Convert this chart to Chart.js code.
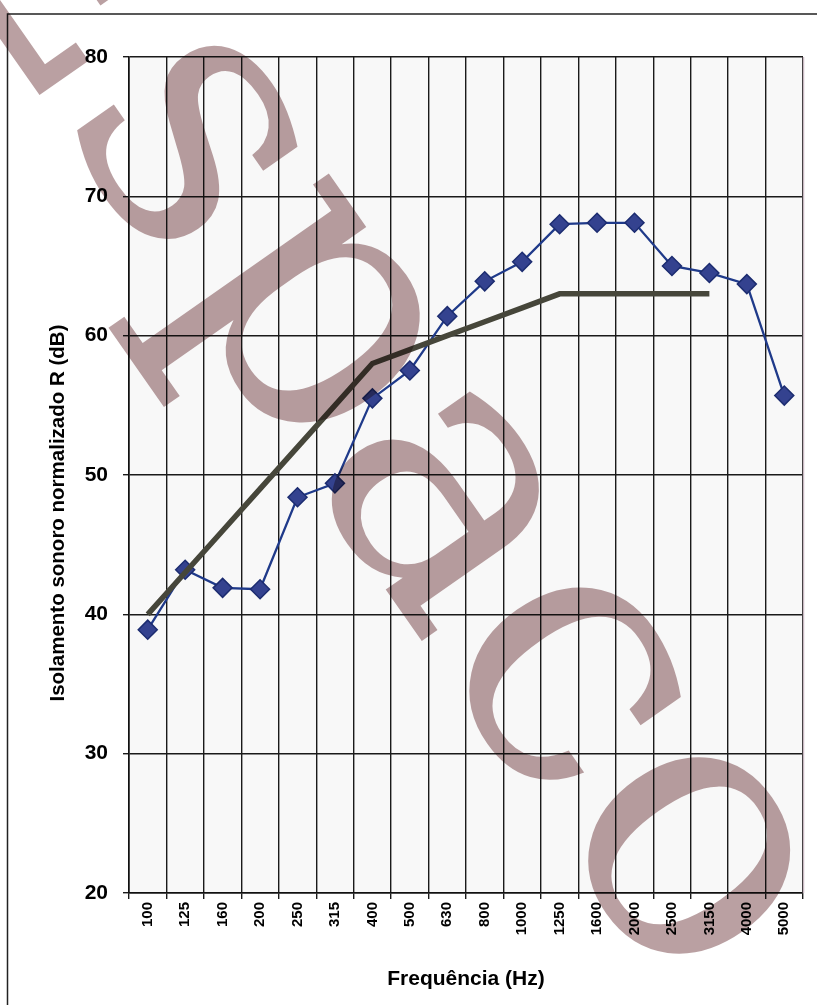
<!DOCTYPE html>
<html>
<head>
<meta charset="utf-8">
<script src="https://cdn.jsdelivr.net/npm/chart.js@4.4.1/dist/chart.umd.min.js"></script>
<style>
  html, body { margin: 0; padding: 0; background: #ffffff; }
  #wrap { width: 817px; height: 1005px; position: relative; }
  canvas { display: block; }
</style>
</head>
<body>
<div id="wrap"><canvas id="chart" width="817" height="1005"></canvas></div>
<script>
// Third-octave band centre frequencies (Hz)
const frequencies = ['100', '125', '160', '200', '250', '315', '400', '500', '630',
                     '800', '1000', '1250', '1600', '2000', '2500', '3150', '4000', '5000'];

// Measured normalised sound reduction index R (dB)
const measuredR = [38.9, 43.2, 41.9, 41.8, 48.4, 49.4, 55.5, 57.5, 61.4,
                   63.9, 65.3, 68.0, 68.1, 68.1, 65.0, 64.5, 63.7, 55.7];

// Shifted reference curve (100 Hz - 3150 Hz)
const referenceCurve = [40, 43, 46, 49, 52, 55, 58, 59, 60,
                        61, 62, 63, 63, 63, 63, 63, null, null];

// Value axis range and step
const yMin = 20;
const yMax = 80;
const yStep = 10;

const axisTitleY = 'Isolamento sonoro normalizado R (dB)';
const axisTitleX = 'Frequência (Hz)';
const watermarkText = 'Espaco';

const FONT = '"Liberation Sans", Arial, Helvetica, sans-serif';

// Plot background, outer frame, right edge of the plot and the value-axis title
const backdrop = {
  id: 'backdrop',
  beforeDraw(chart) {
    const { ctx, chartArea: a, width, height } = chart;
    ctx.save();
    ctx.fillStyle = '#ffffff';
    ctx.fillRect(0, 0, width, height);
    ctx.fillStyle = '#f8f8f8';
    ctx.fillRect(a.left, a.top, a.right - a.left, a.bottom - a.top);
    ctx.restore();
  },
  afterDraw(chart) {
    const { ctx, chartArea: a, width, height } = chart;
    ctx.save();
    ctx.strokeStyle = '#c9b9c2';
    ctx.lineWidth = 1.5;
    ctx.beginPath();
    ctx.moveTo(a.right + 0.5, a.top);
    ctx.lineTo(a.right + 0.5, a.bottom);
    ctx.stroke();
    ctx.strokeStyle = '#222222';
    ctx.lineWidth = 1.5;
    ctx.beginPath();
    ctx.moveTo(7.5, height);
    ctx.lineTo(7.5, 14);
    ctx.lineTo(width, 14);
    ctx.stroke();

    // value-axis title, set a little below the middle of the axis
    ctx.translate(58, 513);
    ctx.rotate(-Math.PI / 2);
    ctx.fillStyle = '#000000';
    ctx.font = 'bold 20.5px ' + FONT;
    ctx.textAlign = 'center';
    ctx.textBaseline = 'middle';
    ctx.fillText(axisTitleY, 0, 0);
    ctx.restore();
  }
};

// Diagonal watermark printed over the whole sheet
const watermark = {
  id: 'watermark',
  afterDraw(chart) {
    const { ctx } = chart;
    ctx.save();
    ctx.globalCompositeOperation = 'multiply';
    ctx.fillStyle = 'rgb(186,160,162)';
    ctx.font = '370px "DejaVu Serif", serif';
    ctx.textAlign = 'center';
    ctx.textBaseline = 'alphabetic';
    ctx.translate(288, 450);
    ctx.rotate(55 * Math.PI / 180);
    ctx.fillText(watermarkText, 0, 0);
    ctx.restore();
  }
};

new Chart(document.getElementById('chart'), {
  type: 'line',
  data: {
    labels: frequencies,
    datasets: [
      {
        label: 'R',
        data: measuredR,
        order: 1,
        borderColor: '#1f3a8a',
        borderWidth: 2.3,
        pointStyle: 'rectRot',
        pointRadius: 9.5,
        pointBackgroundColor: '#34428f',
        pointBorderColor: '#1c2c70',
        pointBorderWidth: 1.5,
        tension: 0
      },
      {
        label: 'Curva de referência',
        data: referenceCurve,
        order: 0,
        borderColor: '#46463a',
        borderWidth: 5.5,
        pointRadius: 0,
        spanGaps: false,
        tension: 0
      }
    ]
  },
  options: {
    responsive: false,
    animation: false,
    devicePixelRatio: 1,
    layout: { padding: { left: 0, top: 57, right: 14, bottom: 0 } },
    plugins: {
      legend: { display: false },
      tooltip: { enabled: false }
    },
    scales: {
      x: {
        type: 'category',
        offset: true,
        grid: { offset: true, color: '#1a1a1a', lineWidth: 1.4, tickLength: 6, drawTicks: true },
        border: { display: true, color: '#111111', width: 1.6 },
        ticks: {
          autoSkip: false, minRotation: 90, maxRotation: 90, padding: 3,
          color: '#000000', font: { family: FONT, size: 15, weight: 'bold' }
        },
        title: {
          display: true, text: axisTitleX, color: '#000000',
          font: { family: FONT, size: 21, weight: 'bold' },
          padding: { top: 0, bottom: 13 }
        },
        afterFit(scale) { scale.height = 112; }
      },
      y: {
        min: yMin, max: yMax,
        grid: { color: '#1a1a1a', lineWidth: 1.4, tickLength: 6, drawTicks: true },
        border: { display: true, color: '#111111', width: 1.6 },
        ticks: {
          stepSize: yStep, padding: 15, color: '#000000',
          font: { family: FONT, size: 21, weight: 'bold' }
        },
        title: { display: false },
        afterFit(scale) { scale.width = 129; }
      }
    }
  },
  plugins: [backdrop, watermark]
});
</script>
</body>
</html>
